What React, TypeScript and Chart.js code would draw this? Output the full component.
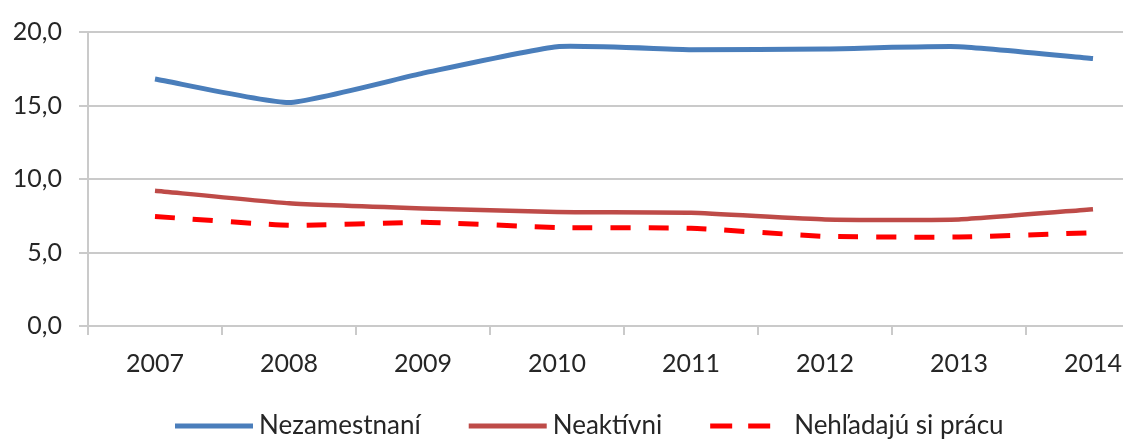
import React, { useEffect, useRef } from "react";
import { Chart, registerables } from "chart.js";

Chart.register(...registerables);

const years = ["2007", "2008", "2009", "2010", "2011", "2012", "2013", "2014"];
const nezamestnani = [16.8, 15.2, 17.2, 19.0, 18.8, 18.85, 19.0, 18.2];
const neaktivni = [9.2, 8.35, 8.0, 7.75, 7.7, 7.25, 7.25, 7.95];
const nehladaju = [7.45, 6.85, 7.05, 6.7, 6.65, 6.1, 6.05, 6.35];
const seriesLabels = ["Nezamestnaní", "Neaktívni", "Nehľadajú si prácu"];

const FONT = "Lato";
const TEXT = "#262626";
const GRID = "#CACACA";

const legendPlugin = {
  id: "customLegend",
  afterDraw(chart: any) {
    const ctx = chart.ctx;
    ctx.save();
    ctx.font = `26px ${FONT}`;
    ctx.textBaseline = "middle";
    const y = 426;
    let x = 175;
    const lineLen = 78;
    chart.data.datasets.forEach((ds: any) => {
      const dashed = ds.borderDash && ds.borderDash.length;
      ctx.beginPath();
      ctx.setLineDash(dashed ? [22, 16, 22, 18] : []);
      ctx.lineWidth = 5;
      ctx.lineCap = "butt";
      ctx.strokeStyle = ds.borderColor;
      ctx.moveTo(x, y);
      ctx.lineTo(x + lineLen, y);
      ctx.stroke();
      ctx.setLineDash([]);
      ctx.fillStyle = TEXT;
      ctx.fillText(ds.label, x + lineLen + 6, y);
      x += lineLen + 6 + ctx.measureText(ds.label).width + 48;
    });
    ctx.restore();
  },
};

export default function App() {
  const ref = useRef<HTMLCanvasElement>(null);
  useEffect(() => {
    document.body.style.margin = "0";
    document.body.style.overflow = "hidden";
    const chart = new Chart(ref.current!, {
      type: "line",
      data: {
        labels: years,
        datasets: [
          {
            label: seriesLabels[0],
            data: nezamestnani,
            borderColor: "#4A7EBB",
            borderWidth: 5,
            pointRadius: 0,
            tension: 0.15,
          },
          {
            label: seriesLabels[1],
            data: neaktivni,
            borderColor: "#BE4B48",
            borderWidth: 4.5,
            pointRadius: 0,
            tension: 0.15,
          },
          {
            label: seriesLabels[2],
            data: nehladaju,
            borderColor: "#FF0000",
            borderWidth: 5,
            borderDash: [20, 18],
            pointRadius: 0,
            tension: 0.15,
          },
        ],
      },
      options: {
        responsive: false,
        animation: false,
        layout: { padding: { top: 29, left: 0, right: 5, bottom: 0 } },
        plugins: { legend: { display: false }, tooltip: { enabled: false } },
        scales: {
          x: {
            offset: true,
            grid: {
              offset: true,
              drawOnChartArea: false,
              tickLength: 9,
              color: GRID,
              lineWidth: 2,
            },
            border: { color: GRID, width: 2 },
            ticks: { color: TEXT, font: { family: FONT, size: 25 }, padding: 14, maxRotation: 0 },
            afterFit: (s: any) => {
              s.height = 113;
            },
          },
          y: {
            min: 0,
            max: 20,
            grid: { color: GRID, lineWidth: 2, tickLength: 9 },
            border: { color: GRID, width: 2 },
            ticks: {
              stepSize: 5,
              color: TEXT,
              font: { family: FONT, size: 25 },
              padding: 17,
              callback: (v: any) => Number(v).toFixed(1).replace(".", ","),
            },
            afterFit: (s: any) => {
              s.width = 88;
            },
          },
        },
      },
      plugins: [legendPlugin],
    });
    return () => chart.destroy();
  }, []);
  return (
    <div style={{ width: 1165, height: 439 }}>
      <canvas ref={ref} width={1165} height={439} style={{ display: "block" }} />
    </div>
  );
}
